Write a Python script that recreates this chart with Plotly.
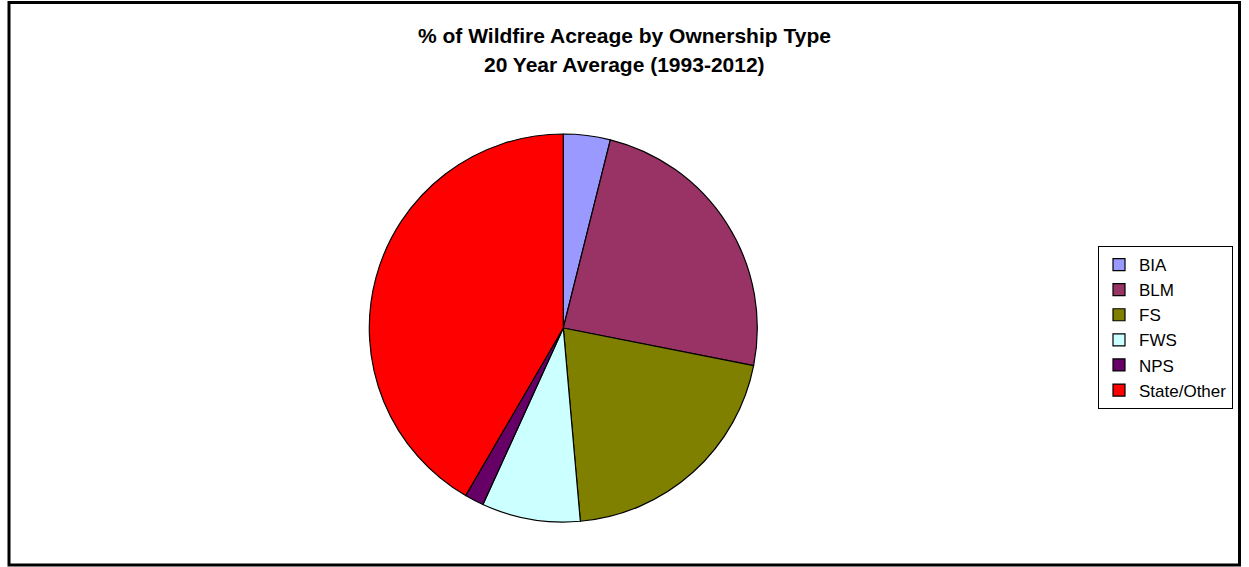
import plotly.graph_objects as go

categories = ["BIA", "BLM", "FS", "FWS", "NPS", "State/Other"]
values = [3.9, 24.2, 20.5, 8.2, 1.6, 41.6]
colors = ["#9999FF", "#993366", "#808000", "#CCFFFF", "#660066", "#FF0000"]
title_lines = ["% of Wildfire Acreage by Ownership Type", "20 Year Average (1993-2012)"]

W, H = 1249, 567
FONT = "Liberation Sans, Arial, sans-serif"

fig = go.Figure(go.Pie(
    labels=categories,
    values=values,
    sort=False,
    direction="clockwise",
    rotation=0,
    marker=dict(colors=colors, line=dict(color="black", width=1.2)),
    textinfo="none",
    hoverinfo="label+percent",
    domain=dict(x=[369.3 / W, 757.3 / W], y=[1 - 522 / H, 1 - 134 / H]),
))

annotations = []
for txt, yc in zip(title_lines, [35, 64.5]):
    annotations.append(dict(
        text="<b>" + txt + "</b>", x=0.5, y=1 - yc / H, xref="paper", yref="paper",
        xanchor="center", yanchor="middle", showarrow=False,
        font=dict(family=FONT, size=21, color="black"),
    ))

fig.update_layout(
    width=W, height=H,
    margin=dict(l=0, r=0, t=0, b=0),
    paper_bgcolor="white",
    plot_bgcolor="white",
    annotations=annotations,
    showlegend=True,
    legend=dict(
        x=1098 / W, y=1 - 246 / H, xanchor="left", yanchor="top",
        bordercolor="black", borderwidth=1, bgcolor="white",
        font=dict(family=FONT, size=17, color="black"),
        itemwidth=30,
    ),
    shapes=[dict(
        type="rect", xref="paper", yref="paper",
        x0=9 / W, x1=1239.5 / W, y0=1 - 565 / H, y1=1 - 2.5 / H,
        line=dict(color="black", width=3),
    )],
)

fig.write_html(
    "out.html",
    config={"displayModeBar": False},
    post_script="document.body.style.margin='0';document.body.style.padding='0';",
)
